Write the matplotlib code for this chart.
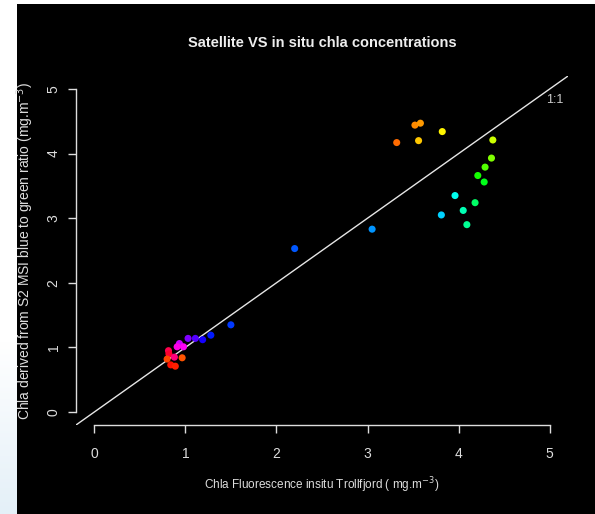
import matplotlib
matplotlib.use('Agg')
import matplotlib.pyplot as plt
import numpy as np
from matplotlib.colors import hsv_to_rgb
from matplotlib.patches import Rectangle

# in situ chla (x) vs satellite-derived chla (y)
insitu = [3.52, 3.58, 3.82, 3.32, 3.56, 4.375, 4.36, 4.29, 4.21, 4.28,
          3.96, 4.18, 4.05, 3.81, 4.09,
          2.20, 3.05, 1.50,
          1.28, 1.19, 1.11, 1.03, 0.935, 0.98, 0.91, 0.815, 0.82, 0.88,
          0.965, 0.80, 0.84, 0.89]
satellite = [4.44, 4.47, 4.34, 4.17, 4.20, 4.21, 3.93, 3.79, 3.66, 3.56,
             3.35, 3.24, 3.12, 3.05, 2.90,
             2.53, 2.83, 1.35,
             1.19, 1.12, 1.14, 1.14, 1.06, 1.01, 1.01, 0.95, 0.90, 0.85,
             0.84, 0.82, 0.73, 0.71]
# rainbow hue of each point
hues = [0.09, 0.10, 0.16, 0.07, 0.13, 0.20, 0.25, 0.28, 0.32, 0.35,
        0.49, 0.40, 0.45, 0.53, 0.43,
        0.61, 0.57, 0.63,
        0.65, 0.68, 0.72, 0.75, 0.80, 0.84, 0.85, 0.95, 0.97, 0.92,
        0.055, 0.045, 0.01, 0.02]
ticks = [0, 1, 2, 3, 4, 5]

plt.rcParams['font.family'] = ['Liberation Sans', 'DejaVu Sans']

fig = plt.figure(figsize=(5.95, 5.14), dpi=100, facecolor='white')

# black panel behind everything
fig.patches.append(Rectangle((17 / 595, 0), 1, 1 - 4 / 514, transform=fig.transFigure,
                             facecolor='black', edgecolor='none', zorder=-10))

# light strip on the left with a faint blue fade at the bottom
strip = fig.add_axes([0, 0, 17 / 595, 1])
grad = np.linspace(0, 1, 256).reshape(-1, 1)
strip.imshow(grad, aspect='auto', cmap=matplotlib.colors.LinearSegmentedColormap.from_list(
    'g', ['#ffffff', '#ffffff', '#ffffff', '#e4f0f8']), origin='upper')
strip.axis('off')

ax = fig.add_axes([76 / 595, 89 / 514, 492 / 595, 349 / 514])
ax.set_facecolor('none')
colors = [hsv_to_rgb((h, 1, 1)) for h in hues]
ax.scatter(insitu, satellite, c=colors, s=26, edgecolors='none', zorder=3)
ax.axline((0, 0), slope=1, color='#e6e6e6', lw=1.0, zorder=2)
ax.text(5.05, 4.83, '1:1', color='#cccccc', fontsize=9, ha='center', va='center')

ax.set_xlim(-0.2, 5.2)
ax.set_ylim(-0.2, 5.2)
ax.set_xticks(ticks)
ax.set_yticks(ticks)
for s in ['top', 'right']:
    ax.spines[s].set_visible(False)
for s in ['left', 'bottom']:
    ax.spines[s].set_color('#dddddd')
    ax.spines[s].set_linewidth(1.0)
    ax.spines[s].set_bounds(0, 5)
ax.tick_params(colors='#dddddd', length=6, width=1.0, labelsize=10, pad=10)
ax.tick_params(axis='y', pad=5)
for lab in ax.get_yticklabels():
    lab.set_rotation(90)
    lab.set_va('center')

ax.set_xlabel('Chla Fluorescence insitu Trollfjord ( mg.m$^{-3}$)', color='#dddddd',
              fontsize=8.5, labelpad=10)
ax.set_ylabel('Chla derived from S2 MSI blue to green ratio (mg.m$^{-3}$)', color='#dddddd',
              fontsize=10, labelpad=8)
ax.set_title('Satellite VS in situ chla concentrations', color='#eeeeee', fontsize=10.5,
             fontweight='bold', pad=21)

fig.savefig('out.png', dpi=100, facecolor=fig.get_facecolor())
